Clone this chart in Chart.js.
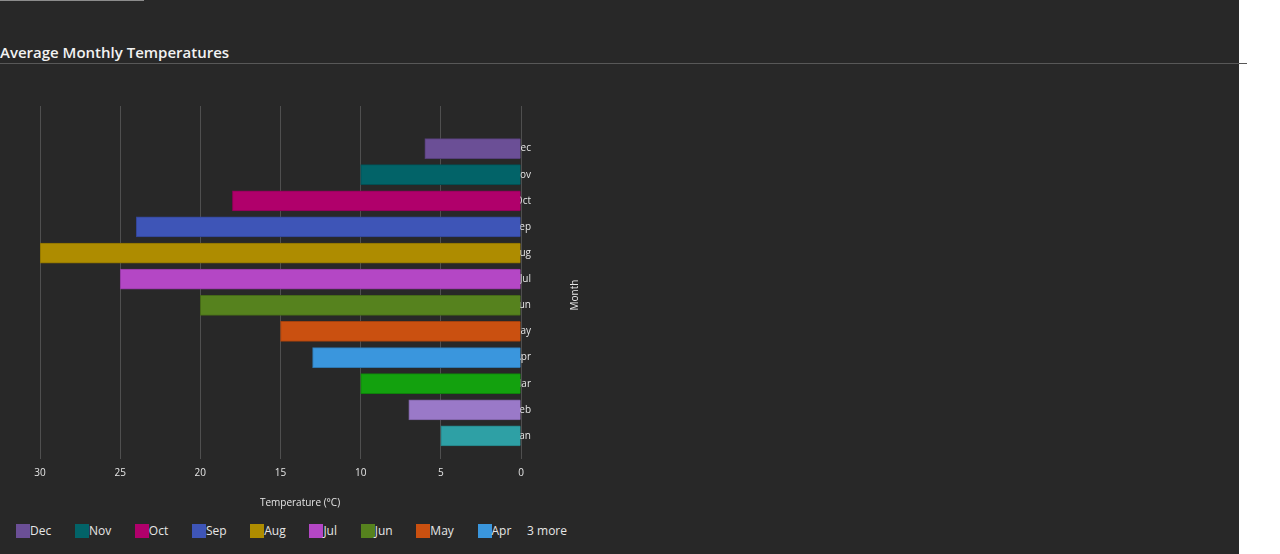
<!DOCTYPE html>
<html>
<head>
<meta charset="utf-8">
<script src="https://cdn.jsdelivr.net/npm/chart.js@4"></script>
<style>
  html, body { margin: 0; padding: 0; background: #ffffff; }
  #wrap { position: relative; width: 1239px; height: 554px; background: #282828; overflow: visible; font-family: "Open Sans", "Noto Sans", sans-serif; }
  #topline { position: absolute; left: 0; top: 0; width: 144px; height: 1px; background: #8c8c8c; }
  #title { position: absolute; left: 0; top: 42px; font-size: 15px; font-weight: 600; color: #f2f2f2; line-height: 20px; white-space: nowrap; }
  #rule { position: absolute; left: 0; top: 63px; width: 1247px; height: 1px; background: #585858; }
  #c { position: absolute; left: 0; top: 90px; }
  #legend { position: absolute; left: 16px; top: 523px; display: flex; align-items: center; font-size: 12px; color: #e6e6e6; line-height: 16px; white-space: nowrap; }
  .item { display: flex; align-items: center; margin-right: 23.7px; }
  .box { width: 14px; height: 14px; }
  .more { margin-left: -8px; }
</style>
</head>
<body>
<div id="wrap">
  <div id="topline"></div>
  <div id="title">Average Monthly Temperatures</div>
  <div id="rule"></div>
  <canvas id="c" width="600" height="425"></canvas>
  <div id="legend"></div>
</div>
<script>
// ---- data ----
const categories = ['Jan', 'Feb', 'Mar', 'Apr', 'May', 'Jun', 'Jul', 'Aug', 'Sep', 'Oct', 'Nov', 'Dec'];
const temperatures = [5, 7, 10, 13, 15, 20, 25, 30, 24, 18, 10, 6];
const xTickValues = [0, 5, 10, 15, 20, 25, 30];
const legendOrder = ['Dec', 'Nov', 'Oct', 'Sep', 'Aug', 'Jul', 'Jun', 'May', 'Apr'];
const legendMoreText = '3 more';
const xTitle = 'Temperature (°C)';
const yTitle = 'Month';

// ---- style ----
const palette = ['#2ea0a5', '#9a79c8', '#13a10e', '#3a96dd', '#ca5010', '#56821e',
                 '#b447c5', '#ae8c00', '#3e55b7', '#b0006b', '#026368', '#6b4f96'];

function darken(hex, f) {
  const n = parseInt(hex.slice(1), 16);
  const r = Math.round(((n >> 16) & 255) * f), g = Math.round(((n >> 8) & 255) * f), b = Math.round((n & 255) * f);
  return 'rgb(' + r + ',' + g + ',' + b + ')';
}

const points = categories.map((c, i) => ({ x: temperatures[i], y: i }));
const Y_MIN = -0.5, Y_MAX = 12.63;

const axisTitles = {
  id: 'axisTitles',
  afterDraw(chart) {
    const ctx = chart.ctx;
    ctx.save();
    ctx.fillStyle = '#e6e6e6';
    ctx.font = '10px "Open Sans", "Noto Sans", sans-serif';
    ctx.textAlign = 'center';
    ctx.textBaseline = 'middle';
    ctx.fillText(xTitle, 300, 413);
    ctx.translate(575, 205);
    ctx.rotate(-Math.PI / 2);
    ctx.fillText(yTitle, 0, 0);
    ctx.restore();
  }
};

new Chart(document.getElementById('c'), {
  type: 'bar',
  data: {
    datasets: [{
      data: points,
      backgroundColor: palette,
      borderColor: palette.map(c => darken(c, 0.8)),
      borderWidth: 1,
      barThickness: 20
    }]
  },
  options: {
    indexAxis: 'y',
    responsive: false,
    animation: false,
    devicePixelRatio: 1,
    layout: { padding: { left: 40, top: 14, right: 0, bottom: 0 } },
    plugins: { legend: { display: false }, tooltip: { enabled: false } },
    scales: {
      x: {
        type: 'linear',
        position: 'bottom',
        reverse: true,
        min: 0,
        max: 30,
        afterBuildTicks: s => { s.ticks = xTickValues.map(v => ({ value: v })); s.min = 0; s.max = 30; },
        afterFit: s => { s.height = 66; },
        grid: { color: '#4f4f4f', tickColor: '#4f4f4f', tickLength: 10, lineWidth: 1 },
        border: { display: false },
        ticks: { color: '#e6e6e6', font: { size: 10, family: '"Open Sans", "Noto Sans", sans-serif' }, padding: 8, maxRotation: 0 }
      },
      y: {
        type: 'linear',
        position: 'right',
        bounds: 'data',
        offset: false,
        min: Y_MIN,
        max: Y_MAX,
        afterBuildTicks: s => { s.ticks = categories.map((c, i) => ({ value: i })); s.min = Y_MIN; s.max = Y_MAX; },
        afterFit: s => { s.width = 79; },
        grid: { display: false, drawTicks: false, offset: false },
        border: { display: false },
        ticks: {
          color: '#e6e6e6',
          font: { size: 10, family: '"Open Sans", "Noto Sans", sans-serif' },
          mirror: true,
          padding: 10,
          autoSkip: false,
          callback: v => categories[v]
        }
      }
    }
  },
  plugins: [axisTitles]
});

// ---- legend ----
const legend = document.getElementById('legend');
legendOrder.forEach(name => {
  const idx = categories.indexOf(name);
  const item = document.createElement('div');
  item.className = 'item';
  const box = document.createElement('div');
  box.className = 'box';
  box.style.background = palette[idx];
  const lab = document.createElement('span');
  lab.textContent = name;
  item.appendChild(box);
  item.appendChild(lab);
  legend.appendChild(item);
});
const more = document.createElement('span');
more.className = 'more';
more.textContent = legendMoreText;
legend.appendChild(more);
</script>
</body>
</html>
